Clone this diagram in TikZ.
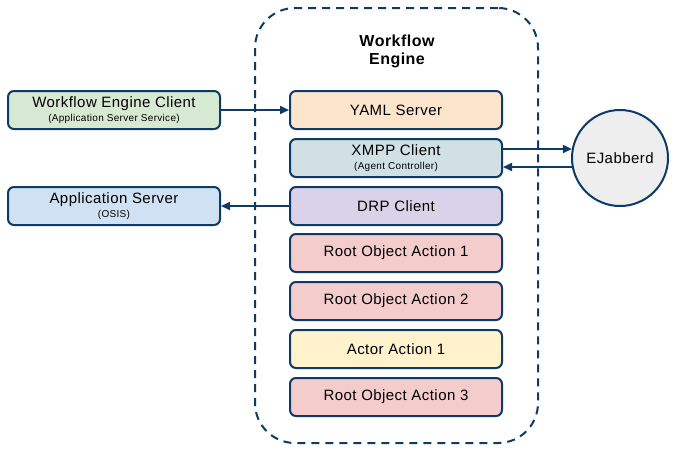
\documentclass[tikz,border=0pt]{standalone}
\usepackage{fontspec}
\setmainfont[LetterSpace=3]{Liberation Sans}
\usetikzlibrary{arrows.meta}
\definecolor{navy}{HTML}{0E3A66}
\definecolor{cgreen}{HTML}{D8E9D3}
\definecolor{cblue}{HTML}{CFE1F2}
\definecolor{corange}{HTML}{FCE5CD}
\definecolor{cteal}{HTML}{D0E0E3}
\definecolor{cpurple}{HTML}{D9D2E9}
\definecolor{cpink}{HTML}{F4CCCC}
\definecolor{cyellow}{HTML}{FFF2CC}
\definecolor{cgray}{HTML}{EEEEEE}
\tikzset{
  box/.style={draw=navy, line width=2pt, rounded corners=6pt, minimum width=212pt, minimum height=38pt, inner sep=0pt, align=center, font=\fontsize{15}{16}\selectfont},
  conn/.style={draw=navy, line width=1.8pt, -{Triangle[length=9pt,width=8pt]}}
}
\newcommand{\sm}[1]{\\[-2pt]{\fontsize{10}{11}\selectfont #1}}
\begin{document}
\begin{tikzpicture}[x=1pt,y=-1pt]
\useasboundingbox (0,0) rectangle (677,451);
\fill[white] (0,0) rectangle (677,451);
\node[draw=navy, line width=2pt, dash pattern=on 8pt off 6pt, rounded corners=40pt, minimum width=283pt, minimum height=435pt, inner sep=0pt] (engine) at (396.5,225.5) {};
\node[font=\bfseries\fontsize{16}{18}\selectfont, align=center] (title) at (397,51) {Workflow\\Engine};
\node[box, fill=corange] (yaml) at (396,110) {YAML Server};
\node[box, fill=cteal] (xmpp) at (396,158) {XMPP Client\sm{(Agent Controller)}};
\node[box, fill=cpurple] (drp) at (396,206) {DRP Client};
\node[box, fill=cpink] (roa1) at (396,253) {Root Object Action 1};
\node[box, fill=cpink] (roa2) at (396,301) {Root Object Action 2};
\node[box, fill=cyellow] (actor) at (396,349) {Actor Action 1};
\node[box, fill=cpink] (roa3) at (396,397) {Root Object Action 3};
\node[box, fill=cgreen] (wec) at (114,110) {Workflow Engine Client\sm{(Application Server Service)}};
\node[box, fill=cblue] (app) at (114,206) {Application Server\sm{(OSIS)}};
\node[draw=navy, line width=2pt, circle, fill=cgray, minimum size=96pt, inner sep=0pt, font=\fontsize{15}{17}\selectfont] (ej) at (620,158) {EJabberd};
\draw[conn] (wec.east) -- (yaml.west);
\draw[conn] (drp.west) -- (app.east);
\coordinate (xo) at ([yshift=9pt]xmpp.east);
\coordinate (xi) at ([yshift=-9pt]xmpp.east);
\draw[conn] (xo) -- (xo -| ej.169.2);
\draw[conn] (xi -| ej.190.8) -- (xi);
\end{tikzpicture}
\end{document}
